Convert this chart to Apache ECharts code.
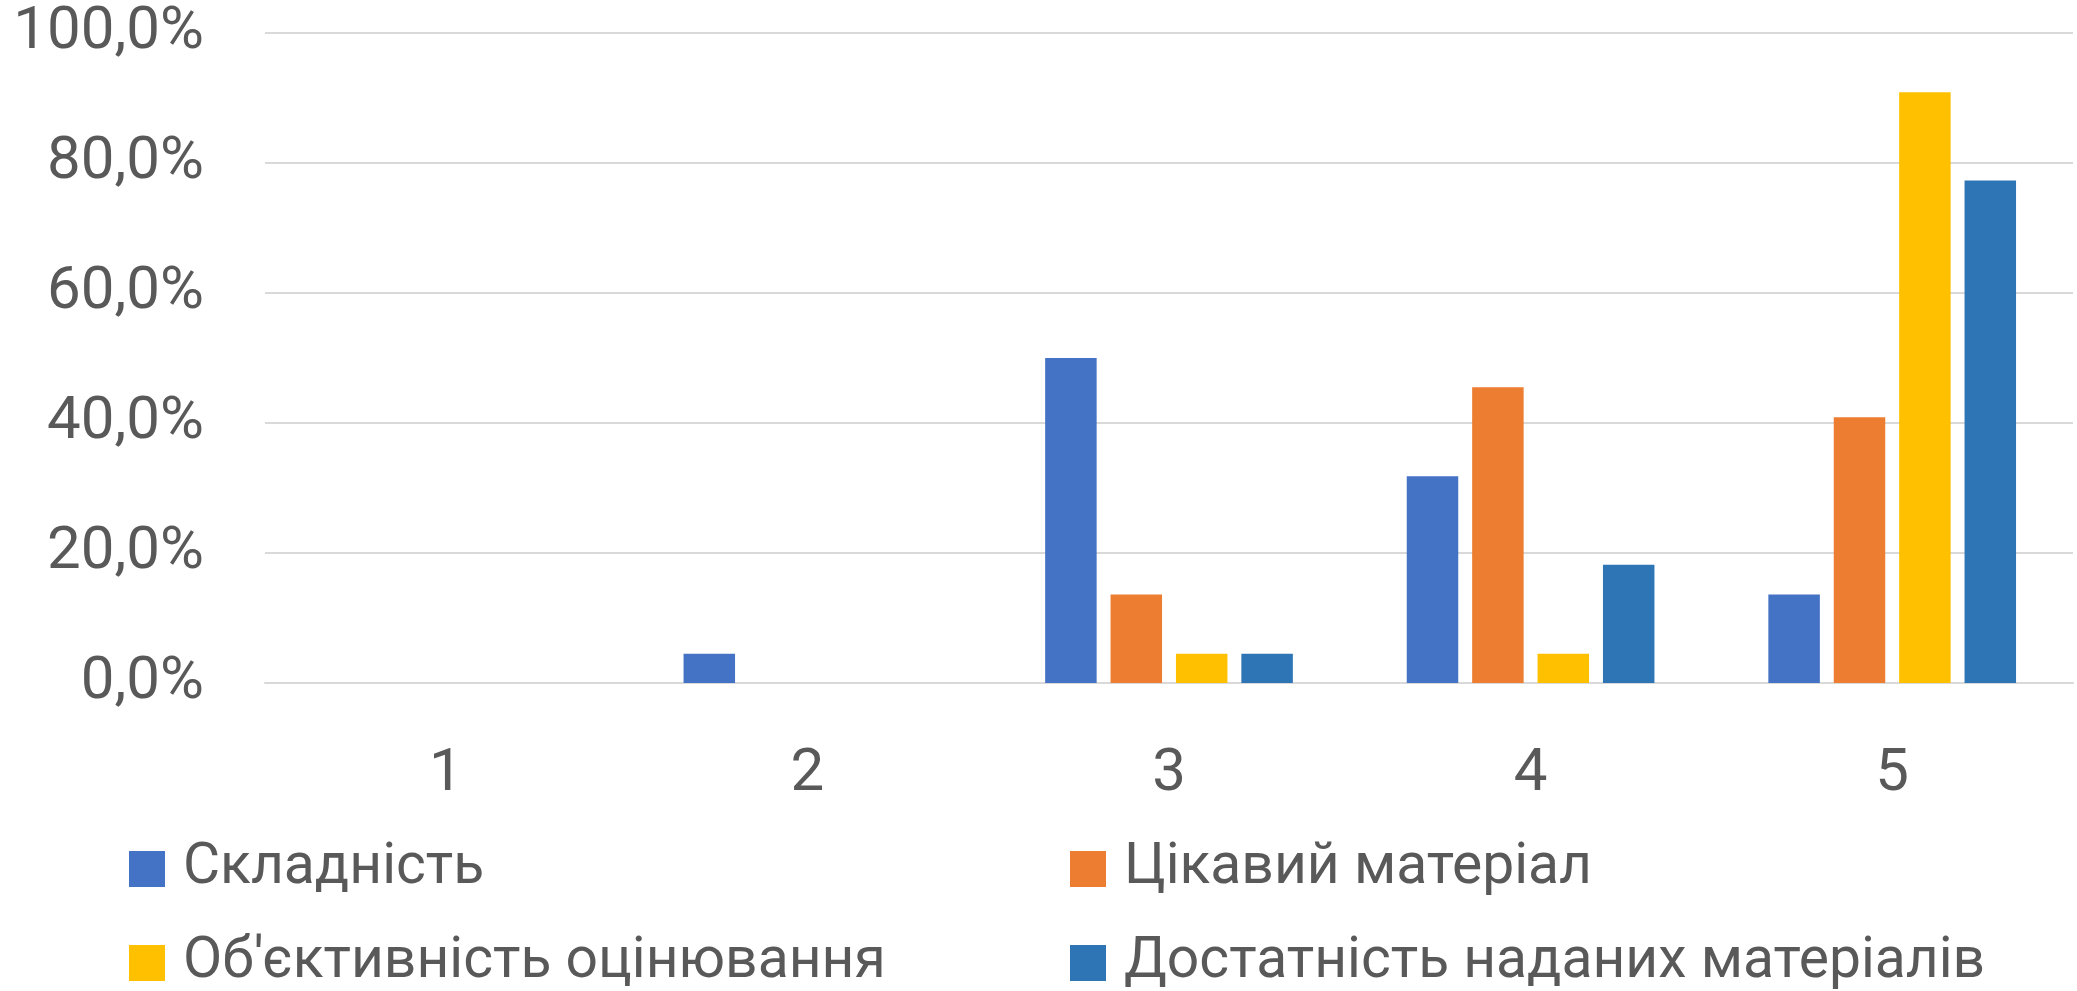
<!DOCTYPE html>
<html>
<head>
<meta charset="utf-8">
<script src="https://cdn.jsdelivr.net/npm/echarts@6/dist/echarts.min.js"></script>
<style>
html,body{margin:0;padding:0;background:#fff;}
#main{width:2077px;height:991px;}
</style>
</head>
<body>
<div id="main"></div>
<script>
const categories = ['1', '2', '3', '4', '5'];
const seriesNames = ['Складність', 'Цікавий матеріал', "Об'єктивність оцінювання", 'Достатність наданих матеріалів'];
const skladnist = [0, 4.5, 50.0, 31.8, 13.6];
const tsikavyi = [0, 0, 13.6, 45.5, 40.9];
const obiektyvnist = [0, 0, 4.5, 4.5, 90.9];
const dostatnist = [0, 0, 4.5, 18.2, 77.3];
const yTicks = [0, 20, 40, 60, 80, 100];

const colors = ['#4472C4', '#ED7D31', '#FFC000', '#2E75B6'];
const valuesList = [skladnist, tsikavyi, obiektyvnist, dostatnist];
const FONT = 'Roboto';
const TXT = '#595959';

const chart = echarts.init(document.getElementById('main'), null, {renderer: 'canvas'});
const legendText = {fontFamily: FONT, fontSize: 57, color: TXT, padding: [0, 0, 0, 13], lineHeight: 60};
const legendPos = [[129, 839], [1070, 839], [129, 933], [1070, 933]];
chart.setOption({
  backgroundColor: '#ffffff',
  animation: false,
  color: colors,
  grid: {left: 265, right: 4, top: 33, bottom: 308, containLabel: false},
  legend: seriesNames.map((n, i) => ({
    left: legendPos[i][0], top: legendPos[i][1], padding: 0,
    itemWidth: 36, itemHeight: 36, icon: 'rect',
    data: [n], textStyle: legendText
  })),
  xAxis: {
    type: 'category',
    data: categories,
    axisLine: {lineStyle: {color: '#D9D9D9', width: 2}},
    axisTick: {show: false},
    axisLabel: {fontFamily: FONT, fontSize: 60, color: TXT, margin: 62}
  },
  yAxis: {
    type: 'value',
    min: yTicks[0],
    max: yTicks[yTicks.length - 1],
    interval: 20,
    axisLine: {show: false},
    axisTick: {show: false},
    splitLine: {lineStyle: {color: '#D9D9D9', width: 2}},
    axisLabel: {fontFamily: FONT, fontSize: 60, color: TXT, margin: 61,
      formatter: v => v.toFixed(1).replace('.', ',') + '%'}
  },
  series: seriesNames.map((n, i) => ({
    name: n,
    type: 'bar',
    data: valuesList[i],
    barGap: '27%',
    barCategoryGap: '31.5%',
    itemStyle: {color: colors[i]}
  }))
});
</script>
</body>
</html>
